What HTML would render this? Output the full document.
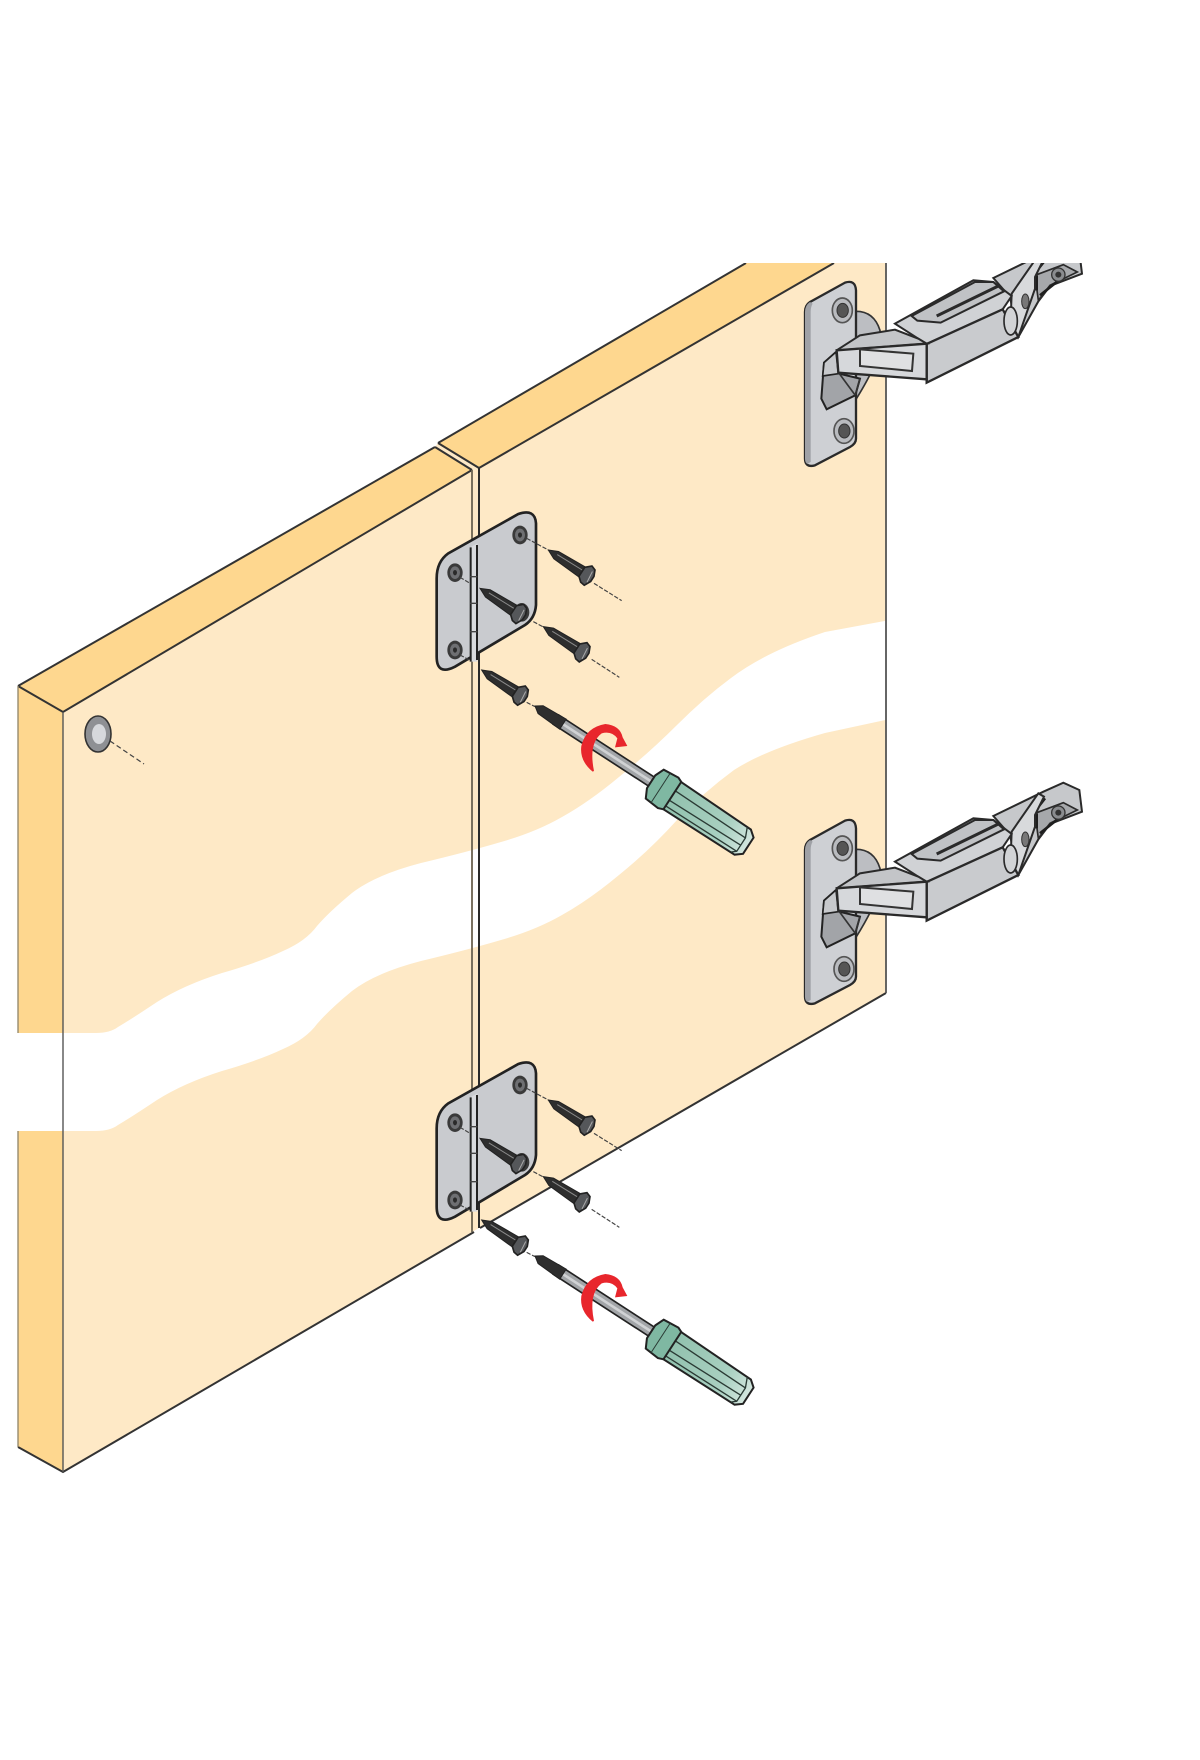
<!DOCTYPE html>
<html><head><meta charset="utf-8"><title>Hinge mounting diagram</title>
<style>html,body{margin:0;padding:0;background:#fff}svg{display:block}</style></head>
<body>
<svg xmlns="http://www.w3.org/2000/svg" width="1200" height="1760" viewBox="0 0 1200 1760">
<defs>
<clipPath id="top"><rect x="0" y="263" width="1200" height="1497"/></clipPath>
<linearGradient id="hd" x1="0" x2="1" y1="0" y2="0"><stop offset="0" stop-color="#8fc0ac"/><stop offset=".7" stop-color="#a9d0c1"/><stop offset="1" stop-color="#d3e6de"/></linearGradient>

<g id="screw">
 <path d="M0,0 L28,-13 L125,-18 L125,18 L28,13 Z" fill="#2e2e2e" stroke="#222" stroke-width="3"/>
 <path d="M30,-3 L120,-5" stroke="#8a8a8a" stroke-width="3" fill="none"/>
 <path d="M120,-16 L136,-31 L150,-26 L158,-8 L158,10 L148,30 L134,28 L120,16 Z" fill="#55575a" stroke="#222" stroke-width="5"/>
 <path d="M146,-18 L150,18" stroke="#aaa" stroke-width="3"/>
</g>
<g id="hole">
 <ellipse rx="23" ry="28" fill="#3a3a3a"/>
 <ellipse rx="15" ry="19" fill="#6e6f72"/>
 <ellipse rx="6" ry="8" fill="#2a2a2a"/>
</g>

<g id="mount">
 <path d="M50,265 Q50,215 85,190 L295,72 Q345,55 348,100 L348,345 Q345,385 315,405 L105,530 Q50,558 50,500 Z" fill="#c9cbcf" stroke="#222" stroke-width="8"/>
 <path d="M150,172 L150,515 L172,515 L172,160 Z" fill="#d9dbde" stroke="none"/>
 <path d="M152,172 L152,515 M171,165 L171,510" stroke="#222" stroke-width="6" fill="none"/>
 <path d="M150,260 H172 M150,340 H172 M150,425 H172" stroke="#444" stroke-width="4"/>
 <use href="#hole" x="300" y="135"/>
 <use href="#hole" x="105" y="248"/>
 <use href="#hole" x="105" y="480"/>
 <use href="#hole" x="305" y="367"/>
 <g stroke="#444" stroke-width="3.5" fill="none" stroke-dasharray="13 5">
  <path d="M320,145 L385,180"/><path d="M522,280 L605,332"/>
  <path d="M340,395 L372,412"/><path d="M515,508 L598,562"/>
  <path d="M320,637 L345,650"/><path d="M120,262 L150,280"/><path d="M120,495 L152,512"/>
 </g>
 <use href="#screw" transform="translate(385,180) rotate(33)"/>
 <use href="#screw" transform="translate(180,295) rotate(33)"/>
 <use href="#screw" transform="translate(370,410) rotate(33)"/>
 <use href="#screw" transform="translate(185,540) rotate(33)"/>
 <g transform="translate(345,648) rotate(33)">
  <rect x="75" y="-16" width="350" height="32" fill="#a2a5a8" stroke="#222" stroke-width="5"/>
  <rect x="78" y="-4" width="345" height="8" fill="#d0d2d4"/>
  <path d="M0,0 L20,-14 L100,-18 L100,18 L20,14 Z" fill="#2e2e2e" stroke="#222" stroke-width="3"/>
  <path d="M472,-48 L745,-42 L765,-26 L765,32 L745,48 L472,50 Z" fill="url(#hd)" stroke="#222" stroke-width="6"/>
  <path d="M472,-16 L745,-12 M472,18 L745,14 M472,38 L745,36 M732,-42 L745,-12 L745,36 L732,47" stroke="#2a3a34" stroke-width="4" fill="none"/>
  <path d="M416,-22 L428,-50 L478,-54 L492,-48 L492,50 L476,56 L430,52 L416,24 Z" fill="#7fb8a2" stroke="#222" stroke-width="6"/>
  <path d="M450,-52 L450,54" stroke="#2a3a34" stroke-width="3" fill="none"/>
 </g>
 <path d="M518,845 Q478,812 484,768 Q497,712 556,702 Q600,706 608,742 L622,768 L585,772 L592,745 Q575,722 545,730 Q505,760 522,843 Z" fill="#e8262c"/>
</g>

<g id="hinge">
 <path d="M228,268 Q282,268 300,325 L300,385 Q285,440 228,532 Z" fill="#bcbec2" stroke="#333" stroke-width="5"/>
 <path d="M75,270 Q75,250 90,240 L195,182 Q226,172 228,205 L228,650 Q228,665 210,675 L105,730 Q75,738 75,710 Z" fill="#ced0d4" stroke="#2a2a2a" stroke-width="7"/>
 <path d="M75,270 Q75,250 90,240 L98,245 Q92,255 92,270 L92,720 L82,726 Q75,722 75,710 Z" fill="#9fa1a6"/>
 <ellipse cx="187" cy="265" rx="30" ry="37" fill="#b9bbbf" stroke="#555" stroke-width="5"/>
 <ellipse cx="188" cy="265" rx="17" ry="21" fill="#555" stroke="#333" stroke-width="3"/>
 <ellipse cx="192" cy="627" rx="30" ry="37" fill="#b9bbbf" stroke="#555" stroke-width="5"/>
 <ellipse cx="193" cy="627" rx="17" ry="21" fill="#555" stroke="#333" stroke-width="3"/>
 <path d="M168,390 L132,422 L124,530 L140,562 L226,520 L240,470 L178,455 Z" fill="#a2a4a8" stroke="#222" stroke-width="6"/>
 <path d="M168,390 L132,422 L128,462 L175,455 Z" fill="#c7c9cc" stroke="#222" stroke-width="5"/>
 <path d="M178,455 L226,520 M240,470 L226,520" stroke="#333" stroke-width="5"/>
 <path d="M640,168 L790,95 L850,68 L898,90 L906,155 L810,192 L775,238 L715,345 L690,225 Z" fill="#c6c8cb" stroke="#2a2a2a" stroke-width="6"/>
 <path d="M765,160 L850,128 L892,150 L810,190 L775,235 Z" fill="#a6a8ab" stroke="#2a2a2a" stroke-width="5"/>
 <path d="M770,205 L770,160 M795,115 L760,160 M780,220 L830,180" stroke="#1e1e1e" stroke-width="8" fill="none"/>
 <circle cx="835" cy="158" r="20" fill="#8a8c8f" stroke="#333" stroke-width="4"/>
 <circle cx="835" cy="158" r="9" fill="#333"/>
 <path d="M695,215 L775,100 L792,110 L765,165 L765,200 L715,345 L690,340 Z" fill="#d8dadc" stroke="#2a2a2a" stroke-width="6"/>
 <ellipse cx="736" cy="238" rx="11" ry="22" fill="#777" stroke="#333" stroke-width="3"/>
 <path d="M345,305 L580,175 L640,180 L695,222 L668,262 L440,366 L415,350 Z" fill="#d0d2d5" stroke="#2a2a2a" stroke-width="6"/>
 <path d="M395,282 L585,180 L640,180 L672,208 L482,302 L412,296 Z" fill="#c0c2c5" stroke="#2a2a2a" stroke-width="6"/>
 <path d="M470,282 L655,192" stroke="#2a2a2a" stroke-width="9"/>
 <path d="M440,366 L668,262 L715,345 L440,482 Z" fill="#c9cbce" stroke="#2a2a2a" stroke-width="7"/>
 <ellipse cx="692" cy="297" rx="20" ry="42" fill="#d2d4d6" stroke="#2a2a2a" stroke-width="5"/>
 <path d="M170,385 L240,340 L345,323 L415,350 L440,365 Z" fill="#c3c5c8" stroke="#2a2a2a" stroke-width="6"/>
 <path d="M170,385 L440,365 L440,472 L175,452 Z" fill="#d6d8db" stroke="#2a2a2a" stroke-width="7"/>
 <path d="M240,382 L400,395 L396,447 L240,432 Z" fill="#dfe0e2" stroke="#333" stroke-width="6"/>
</g>
</defs>

<rect width="1200" height="1760" fill="#fff"/>

<g clip-path="url(#top)">
 <!-- faces -->
 <polygon points="63,712 472,470 472,1232 63,1472" fill="#fee9c6"/>
 <polygon points="479,468 834,263 886,263 886,993 479,1228" fill="#fee9c6"/>
 <polygon points="472,470 479,468 479,1228 472,1232" fill="#fee9c6"/>
 <polygon points="18,686 63,712 63,1472 18,1447" fill="#fed78f"/>
 <polygon points="18,686 435,447 472,470 63,712" fill="#fed78f"/>
 <polygon points="438,443 746,263 834,263 479,468" fill="#fed78f"/>
 <polygon points="435,447 438,443 479,468 472,470" fill="#fee9c6"/>

 <!-- white break -->
 <path d="M16,1033 L96,1033 Q110,1033 118,1027 Q130,1020 157,1002 Q184,985 222,973 Q260,962 283,951 Q306,941 317,926 Q329,912 352,893 Q375,875 421,863 Q467,852 501,842 Q536,832 562,817 Q589,802 619,777 Q650,752 677,725 Q704,698 731,678 Q765,652 825,632 L890,620 L890,719 L825,733 Q765,750 734,770 Q704,792 677,820 Q650,850 619,875 Q589,900 562,915 Q536,930 501,940 Q467,950 421,961 Q375,973 352,991 Q329,1010 317,1024 Q306,1039 283,1049 Q260,1060 222,1071 Q184,1083 157,1100 Q130,1118 118,1125 Q110,1131 96,1131 L16,1131 Z" fill="#fff"/>

 <!-- lines -->
 <g fill="none" stroke="#333" stroke-width="2">
  <path d="M18,686 L435,447"/>
  <path d="M18,686 L63,712 L472,470"/>
  <path d="M438,443 L746,263"/>
  <path d="M479,468 L834,263"/>
  <path d="M435,447 L472,470 M438,443 L479,468"/>
  <path d="M18,1447 L63,1472 L474,1232"/>
  <path d="M480,1228 L886,993"/>
 </g>
 <path d="M18,686 V1033 M18,1131 V1447" stroke="#8f8468" stroke-width="1.3" fill="none"/>
 <path d="M63,712 V1472" stroke="#555" stroke-width="1.4" fill="none"/>
 <path d="M472,470 V1232" stroke="#6b6350" stroke-width="1.8" fill="none"/>
 <path d="M479,468 V1228" stroke="#2a2a2a" stroke-width="2" fill="none"/>
 <path d="M886,263 V993" stroke="#555" stroke-width="1.8" fill="none"/>

 <!-- small hole on the left panel -->
 <ellipse cx="98" cy="734" rx="13" ry="18" fill="#8e9094" stroke="#333" stroke-width="1.6"/>
 <ellipse cx="99" cy="734" rx="7" ry="10" fill="#d6d8dc"/>
 <path d="M110,741 L144,764" stroke="#444" stroke-width="1.2" stroke-dasharray="5 3" fill="none"/>

 <!-- hinges -->
 <use href="#hinge" transform="translate(780,222) scale(.33333)"/>
 <use href="#hinge" transform="translate(780,760) scale(.33333)"/>
</g>

<!-- mounting plates, screws, screwdrivers -->
<use href="#mount" transform="translate(420,490) scale(.33333)"/>
<use href="#mount" transform="translate(420,1040) scale(.33333)"/>
</svg>
</body></html>
